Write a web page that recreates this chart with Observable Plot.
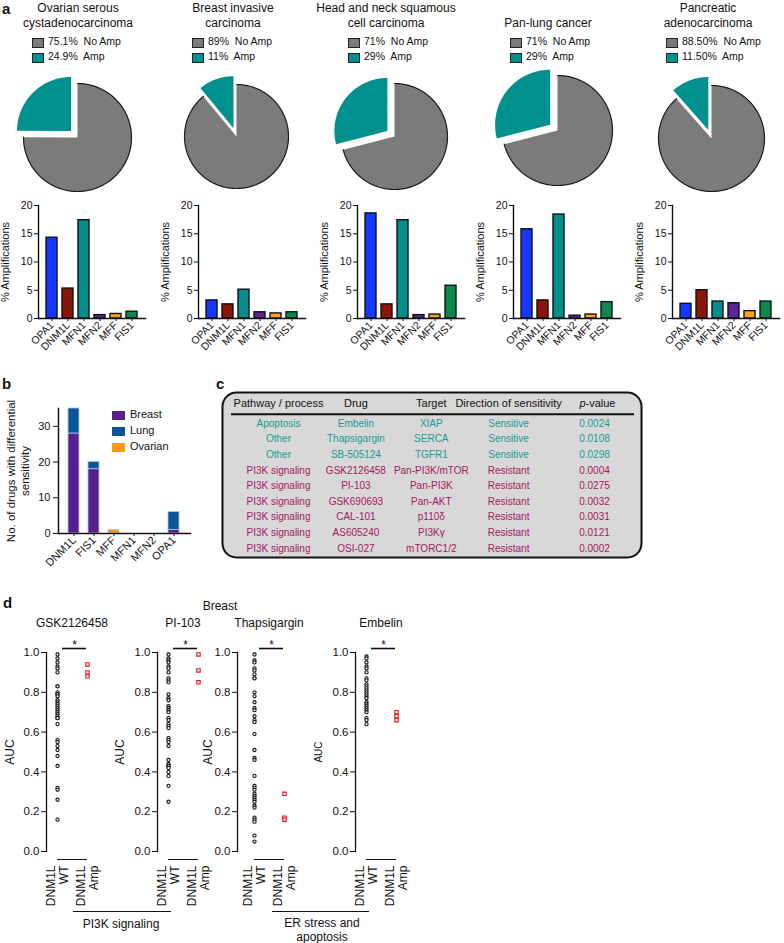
<!DOCTYPE html>
<html><head><meta charset="utf-8">
<script src="https://cdn.jsdelivr.net/npm/d3@7"></script>
<script src="https://cdn.jsdelivr.net/npm/@observablehq/plot@0.6"></script>
<style>
body{margin:0;background:#fff;font-family:"Liberation Sans",Arial,sans-serif;}
#root{position:relative;width:784px;height:943px;overflow:hidden;background:#fff;}
.abs{position:absolute;white-space:pre;color:#111;font-family:"Liberation Sans",Arial,sans-serif;}
svg{position:absolute;}
</style></head><body><div id="root"></div>
<script>
// ---------------- DATA ----------------
const cancerTitles = ["Ovarian serous\ncystadenocarcinoma","Breast invasive\ncarcinoma","Head and neck squamous\ncell carcinoma","Pan-lung cancer","Pancreatic\nadenocarcinoma"];
const noAmpText = ["75.1%","89%","71%","71%","88.50%"];
const ampText = ["24.9%","11%","29%","29%","11.50%"];
const ampPercent = [24.9, 11, 29, 29, 11.5];
const pieLegend = ["No Amp","Amp"];

const genes = ["OPA1","DNM1L","MFN1","MFN2","MFF","FIS1"];
const ampOvarian    = [14.3, 5.3, 17.4, 0.6, 0.8, 1.2];
const ampBreast     = [3.2, 2.5, 5.1, 1.1, 0.9, 1.1];
const ampHeadNeck   = [18.6, 2.5, 17.4, 0.6, 0.7, 5.8];
const ampLung       = [15.8, 3.2, 18.4, 0.5, 0.7, 2.9];
const ampPancreatic = [2.6, 5.0, 3.0, 2.7, 1.3, 3.0];
const ampTicks = [0, 5, 10, 15, 20];
const ampAxisLabel = "% Amplifications";

const bGenes = ["DNM1L","FIS1","MFF","MFN1","MFN2","OPA1"];
const tissues = ["Breast","Lung","Ovarian"];
const drugsBreast  = [28, 18, 0, 0, 0, 1];
const drugsLung    = [7, 2, 0, 0, 0, 5];
const drugsOvarian = [0, 0, 1, 0, 0, 0];
const bTicks = [0, 10, 20, 30];
const bAxisLabel = "No. of drugs with differential\nsensitivity";

const tableHeader = ["Pathway / process","Drug","Target","Direction of sensitivity","p-value"];
const pathways = ["Apoptosis","Other","Other","PI3K signaling","PI3K signaling","PI3K signaling","PI3K signaling","PI3K signaling","PI3K signaling"];
const drugs = ["Embelin","Thapsigargin","SB-505124","GSK2126458","PI-103","GSK690693","CAL-101","AS605240","OSI-027"];
const targets = ["XIAP","SERCA","TGFR1","Pan-PI3K/mTOR","Pan-PI3K","Pan-AKT","p110\u03b4","PI3K\u03b3","mTORC1/2"];
const directions = ["Sensitive","Sensitive","Sensitive","Resistant","Resistant","Resistant","Resistant","Resistant","Resistant"];
const pValues = ["0.0024","0.0108","0.0298","0.0004","0.0275","0.0032","0.0031","0.0121","0.0002"];

const scatterDrugs = ["GSK2126458","PI-103","Thapsigargin","Embelin"];
const gskWT = [0.99,0.97,0.95,0.93,0.92,0.90,0.83,0.83,0.80,0.79,0.79,0.78,0.76,0.75,0.74,0.73,0.72,0.71,0.70,0.69,0.68,0.67,0.67,0.64,0.56,0.55,0.53,0.51,0.48,0.43,0.32,0.31,0.26,0.16];
const gskAmp = [0.94,0.90,0.88];
const pi103WT = [0.99,0.97,0.96,0.95,0.93,0.92,0.90,0.87,0.86,0.85,0.79,0.77,0.76,0.73,0.72,0.71,0.70,0.67,0.66,0.64,0.63,0.62,0.57,0.56,0.55,0.53,0.46,0.44,0.43,0.43,0.42,0.40,0.38,0.33,0.25];
const pi103Amp = [0.99,0.91,0.85];
const thapWT = [0.99,0.96,0.95,0.92,0.91,0.89,0.87,0.87,0.80,0.78,0.75,0.72,0.71,0.68,0.66,0.65,0.59,0.51,0.47,0.46,0.38,0.33,0.32,0.31,0.29,0.28,0.27,0.26,0.25,0.23,0.22,0.17,0.16,0.15,0.08,0.05];
const thapAmp = [0.29,0.17,0.16];
const embWT = [0.98,0.97,0.95,0.93,0.92,0.90,0.87,0.86,0.84,0.83,0.82,0.81,0.80,0.79,0.78,0.77,0.75,0.74,0.73,0.72,0.71,0.70,0.67,0.66,0.64];
const embAmp = [0.70,0.68,0.66];
const xGroups = ["WT","Amp"];
const xGroupLabels = ["DNM1L\nWT","DNM1L\nAmp"];
const aucTicks = [0, 0.2, 0.4, 0.6, 0.8, 1.0];
const panelDTitle = "Breast";
const groupLabels = ["PI3K signaling","ER stress and\napoptosis"];

// ---------------- STYLE / LAYOUT ----------------
const FONT = "Liberation Sans, Arial, sans-serif";
const GRAY = "#7b7b7b", TEAL = "#00918e";
const geneColors = ["#1538ff","#8d1409","#008f8c","#5a2596","#ffa01c","#0c8a4d"];
const tissueColors = ["#5a1f8f","#0c5596","#ff9a10"];
const SENS = "#179b9b", RES = "#a3195b";
const root = document.getElementById("root");

function txt(text, x, y, o = {}) {
  const d = document.createElement("div");
  d.className = "abs";
  d.textContent = text;
  d.style.fontSize = (o.size || 11) + "px";
  d.style.lineHeight = (o.lh || 1.25);
  d.style.fontWeight = o.weight || "normal";
  d.style.color = o.color || "#111";
  d.style.textAlign = o.align || "center";
  d.style.left = x + "px"; d.style.top = y + "px";
  const tx = o.align === "left" ? "0" : "-50%";
  const ty = o.vy || "-50%";
  d.style.transform = `translate(${tx},${ty})`;
  root.append(d);
  return d;
}
function box(x, y, w, h, css) {
  const d = document.createElement("div");
  d.style.position = "absolute";
  d.style.left = x + "px"; d.style.top = y + "px";
  d.style.width = w + "px"; d.style.height = h + "px";
  Object.assign(d.style, css);
  root.append(d);
}
function put(svg, left, top) {
  svg.style.left = left + "px"; svg.style.top = top + "px";
  root.append(svg);
}
const baseStyle = (fs) => ({fontFamily: FONT, fontSize: fs + "px", color: "#111", background: "transparent", overflow: "visible"});

// panel letters
txt("a", 2, 0, {size: 15, weight: "bold", align: "left", vy: "0"});
txt("b", 2, 375, {size: 15, weight: "bold", align: "left", vy: "0"});
txt("c", 216, 375, {size: 15, weight: "bold", align: "left", vy: "0"});
txt("d", 3, 594, {size: 15, weight: "bold", align: "left", vy: "0"});

// ---------------- PANEL A: pies ----------------
const titleX = [78, 233, 386, 548, 708];
const legendX = [32, 192, 348, 510, 666];
const pieC = [[77,137,54],[236,136,52],[394,136,53],[557,130,55],[711,138,53]];
const ampSets = [ampOvarian, ampBreast, ampHeadNeck, ampLung, ampPancreatic];
const barAxisX = [38, 198, 357, 513, 672];

function pieGeometry(amp) {
  const p = amp / 100, a0 = 2 * Math.PI * (1 - p);
  const arc = (s, e) => {
    const n = Math.max(4, Math.ceil((e - s) / (Math.PI / 180)));
    return d3.range(n + 1).map(k => { const a = s + (e - s) * k / n; return [Math.sin(a), Math.cos(a)]; });
  };
  const grayArc = arc(0, a0);
  const mid = (a0 + 2 * Math.PI) / 2, ex = 0.17;
  const ox = Math.sin(mid) * ex, oy = Math.cos(mid) * ex;
  const ampArc = arc(a0, 2 * Math.PI).map(([x, y]) => [x + ox, y + oy]);
  return {
    gray: [[0, 0], ...grayArc].map(([x, y]) => ({x, y})),
    outline: grayArc.map(([x, y]) => ({x, y})),
    amp: [[ox, oy], ...ampArc].map(([x, y]) => ({x, y}))
  };
}

cancerTitles.forEach((t, i) => {
  txt(t, titleX[i], 30.5, {size: 12, vy: "-100%", lh: 1.25});
  [[noAmpText[i], GRAY, 42], [ampText[i], TEAL, 57]].forEach(([v, c, y], k) => {
    box(legendX[i], y - 4.5, 10, 8, {background: c, border: "1px solid #222"});
    txt(v + "  " + pieLegend[k], legendX[i] + 16, y, {size: 10.5, align: "left"});
  });
  const [cx, cy, r] = pieC[i];
  const W = 150, H = 136;
  const g = pieGeometry(ampPercent[i]);
  const svg = Plot.plot({
    width: W, height: H, margin: 0, style: baseStyle(10),
    x: {domain: [-W / 2 / r, W / 2 / r], axis: null},
    y: {domain: [-H / 2 / r, H / 2 / r], axis: null},
    marks: [
      Plot.line(g.gray, {x: "x", y: "y", fill: GRAY, stroke: "none", curve: "linear-closed"}),
      Plot.line(g.outline, {x: "x", y: "y", stroke: "#1a1a1a", strokeWidth: 1.2}),
      Plot.line(g.amp, {x: "x", y: "y", fill: TEAL, stroke: "none", curve: "linear-closed"})
    ]
  });
  put(svg, cx - W / 2, cy - H / 2);

  const vals = ampSets[i];
  const bsvg = Plot.plot({
    width: 152, height: 168, marginLeft: 38, marginRight: 7, marginTop: 10, marginBottom: 45,
    style: baseStyle(10.5),
    x: {domain: genes, padding: 0.34, tickRotate: -45, tickSize: 3, tickPadding: 2, label: null},
    y: {domain: [0, 20], ticks: ampTicks, tickSize: 4, tickPadding: 2, label: null},
    color: {domain: genes, range: geneColors},
    marks: [
      Plot.barY(genes.map((gname, j) => ({gene: gname, v: vals[j]})), {x: "gene", y: "v", fill: "gene", stroke: "#111", strokeWidth: 1.4}),
      Plot.frame({anchor: "left", stroke: "#111", strokeWidth: 1.4}),
      Plot.frame({anchor: "bottom", stroke: "#111", strokeWidth: 1.4}),
      Plot.text([ampAxisLabel], {frameAnchor: "left", text: d => d, rotate: -90, dx: -33, textAnchor: "middle", lineAnchor: "middle", fontSize: 11})
    ]
  });
  put(bsvg, barAxisX[i] - 38, 195);
});

// ---------------- PANEL B ----------------
const bData = [];
bGenes.forEach((gname, j) => {
  bData.push({gene: gname, tissue: "Breast", v: drugsBreast[j]});
  bData.push({gene: gname, tissue: "Lung", v: drugsLung[j]});
  bData.push({gene: gname, tissue: "Ovarian", v: drugsOvarian[j]});
});
const bsvg = Plot.plot({
  width: 196, height: 178, marginLeft: 58, marginRight: 6, marginTop: 8, marginBottom: 45,
  style: baseStyle(11),
  x: {domain: bGenes, padding: 0.44, tickRotate: -45, tickSize: 3, tickPadding: 2, label: null},
  y: {domain: [0, 35], ticks: bTicks, tickSize: 5, tickPadding: 3, label: null},
  color: {domain: tissues, range: tissueColors},
  marks: [
    Plot.barY(bData, {x: "gene", y: "v", fill: "tissue", stroke: "#a9c8ea", strokeWidth: 0.8}),
    Plot.frame({anchor: "left", stroke: "#111", strokeWidth: 1.5}),
    Plot.frame({anchor: "bottom", stroke: "#111", strokeWidth: 1.5}),
    Plot.text([bAxisLabel], {frameAnchor: "left", text: d => d, rotate: -90, dx: -41, textAnchor: "middle", lineAnchor: "middle", fontSize: 11.5, lineHeight: 1.25})
  ]
});
put(bsvg, 0, 400);
tissues.forEach((t, k) => {
  const y = 415 + 16 * k;
  box(112, y - 4.5, 13, 9, {background: tissueColors[k]});
  txt(t, 130, y, {size: 11, align: "left"});
});

// ---------------- PANEL C: table ----------------
const cols = tableHeader.map((h, k) => k);
const colAdjust = [0, -1.6, -5.2, -6.9, 0];
const cellData = drugs.flatMap((d, i) => [pathways[i], d, targets[i], directions[i], pValues[i]].map((c, k) => ({row: i, col: k, text: c, dir: directions[i]})));
const headerData = tableHeader.map((h, k) => ({col: k, text: h}));
const cMarks = [
  Plot.frame({fill: "#d8d8d8", stroke: "#111", strokeWidth: 2, rx: 14, inset: 1}),
  Plot.ruleY([-0.6], {stroke: "#111", strokeWidth: 2, insetLeft: 10, insetRight: 8})
];
cols.forEach(k => {
  if (k < 4) cMarks.push(Plot.text(headerData.filter(d => d.col === k), {x: "col", y: () => -1.28, text: "text", dx: colAdjust[k], fontSize: 11, fill: "#111"}));
  cMarks.push(Plot.text(cellData.filter(d => d.col === k), {x: "col", y: "row", text: "text", fill: "dir", dx: colAdjust[k], fontSize: 10}));
});
cMarks.push(Plot.text([headerData[4]], {x: "col", y: () => -1.28, text: () => "p", fontStyle: "italic", textAnchor: "end", dx: -9, fontSize: 11, fill: "#111"}));
cMarks.push(Plot.text([headerData[4]], {x: "col", y: () => -1.28, text: () => "-value", textAnchor: "start", dx: -9, fontSize: 11, fill: "#111"}));
const csvg = Plot.plot({
  width: 421, height: 167, margin: 0, style: baseStyle(10),
  x: {type: "point", domain: cols, range: [57, 373.5], padding: 0, axis: null},
  y: {domain: [-2.05, 8.65], range: [0, 167], axis: null},
  color: {domain: ["Sensitive", "Resistant"], range: [SENS, RES]},
  marks: cMarks
});
put(csvg, 221, 391);

// ---------------- PANEL D: scatter ----------------
txt(panelDTitle, 220, 606, {size: 12});
const scatterSets = [[gskWT, gskAmp], [pi103WT, pi103Amp], [thapWT, thapAmp], [embWT, embAmp]];
const sAxisX = [46, 157, 237, 355];
const sOff = [[11, 41], [11, 41], [17, 47], [11, 41]];
const aucDx = [-36, -37, -29, -37];
const aucSize = [12, 12, 12, 10];
scatterDrugs.forEach((name, i) => {
  const [wt, amp] = scatterSets[i];
  const [o1, o2] = sOff[i];
  const ML = 46;
  txt(name, sAxisX[i] + (o1 + o2) / 2, 623, {size: 12});
  const svg = Plot.plot({
    width: ML + o2 + 16, height: 275, marginLeft: ML, marginRight: 16, marginTop: 20, marginBottom: 56,
    style: baseStyle(11.5),
    x: {type: "point", domain: xGroups, range: [ML + o1, ML + o2], padding: 0, axis: null},
    y: {domain: [0, 1], ticks: aucTicks, tickFormat: ".1f", tickSize: 5, tickPadding: 2, label: null},
    marks: [
      Plot.frame({anchor: "left", stroke: "#111", strokeWidth: 1.3}),
      Plot.dot(wt, {x: () => "WT", y: d => d, r: 1.6, stroke: "#111", strokeWidth: 1.1, fill: "white"}),
      Plot.dot(amp, {x: () => "Amp", y: d => d, r: 1.9, symbol: "square", stroke: "#ee1111", strokeWidth: 1.1, fill: "white"}),
      Plot.ruleY([1.02], {x1: () => "WT", x2: () => "Amp", insetLeft: 5, insetRight: 1, stroke: "#111", strokeWidth: 1.6}),
      Plot.text(["*"], {x: () => "WT", y: () => 1.02, text: d => d, dx: (o2 - o1) / 2 + 2, lineAnchor: "bottom", fontSize: 12}),
      Plot.ruleY([0], {x1: () => "WT", x2: () => "Amp", dy: 8, stroke: "#111", strokeWidth: 1}),
      Plot.text(xGroups.map((g, k) => ({g, t: xGroupLabels[k]})), {x: "g", y: () => 0, text: "t", rotate: -90, textAnchor: "end", lineAnchor: "middle", dy: 14, fontSize: 12, lineHeight: 1.1}),
      Plot.text(["AUC"], {frameAnchor: "left", text: d => d, rotate: -90, dx: aucDx[i], textAnchor: "middle", lineAnchor: "middle", fontSize: aucSize[i]})
    ]
  });
  put(svg, sAxisX[i] - ML, 632);
});
box(73, 911, 98, 0, {borderTop: "1.6px solid #111"});
box(272, 911, 97, 0, {borderTop: "1.6px solid #111"});
txt(groupLabels[0], 121, 924, {size: 12});
txt(groupLabels[1], 322, 930, {size: 12, lh: 1.2});
</script></body></html>
